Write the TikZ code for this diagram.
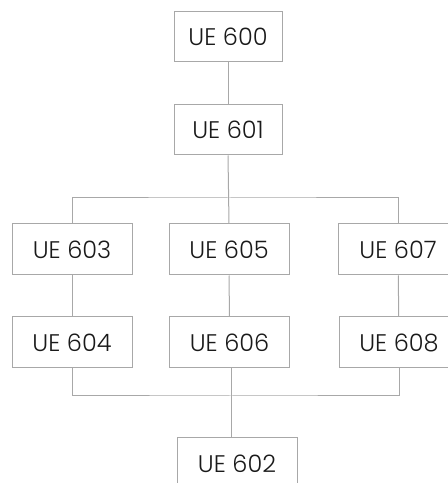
\documentclass[tikz,border=0pt]{standalone}
\usepackage{fontspec}
\setmainfont{Poppins}[UprightFont={* Light}]
\definecolor{boxgray}{HTML}{A8A8A8}
\definecolor{txt}{HTML}{1A1A1A}
\begin{document}
\begin{tikzpicture}[x=1pt,y=1pt,
  ue/.style={draw=boxgray, line width=1pt, fill=white, minimum width=120pt, minimum height=51pt,
    inner sep=0pt, text=txt, font=\fontsize{24}{28}\selectfont},
  uetop/.style={ue, minimum width=108pt, minimum height=50pt},
  conn/.style={draw=boxgray, line width=1pt}]
\useasboundingbox (0,0) rectangle (448,483);
\clip (0,0) rectangle (448,483);
\fill[white] (0,0) rectangle (448,483);
% nodes (y = 483 - pixel y)
\node[uetop] (u600) at (228,446) {UE 600};
\node[uetop] (u601) at (228,353) {UE 601};
\node[ue] (u603) at (72,233.5) {UE 603};
\node[ue] (u605) at (229,233.5) {UE 605};
\node[ue] (u607) at (398,233.5) {UE 607};
\node[ue] (u604) at (72,140.5) {UE 604};
\node[ue] (u606) at (229.5,140.5) {UE 606};
\node[ue] (u608) at (399,140.5) {UE 608};
\node[ue] (u602) at (237,19.5) {UE 602};
\coordinate (busA) at (229,285);
\coordinate (busB) at (231,87);
% connectors
\draw[conn] (u600) -- (u601);
\draw[conn] (u601.south) -- (u605.north);
\draw[conn] (u603.north) |- (busA) -| (u607.north);
\draw[conn] (u603) -- (u604);
\draw[conn] (u605) -- (u606);
\draw[conn] (u607) -- (u608);
\draw[conn] (u604.south) |- (busB) -| (u608.south);
\draw[conn] (busB |- u606.south) -- (busB |- u602.north);
\end{tikzpicture}
\end{document}
